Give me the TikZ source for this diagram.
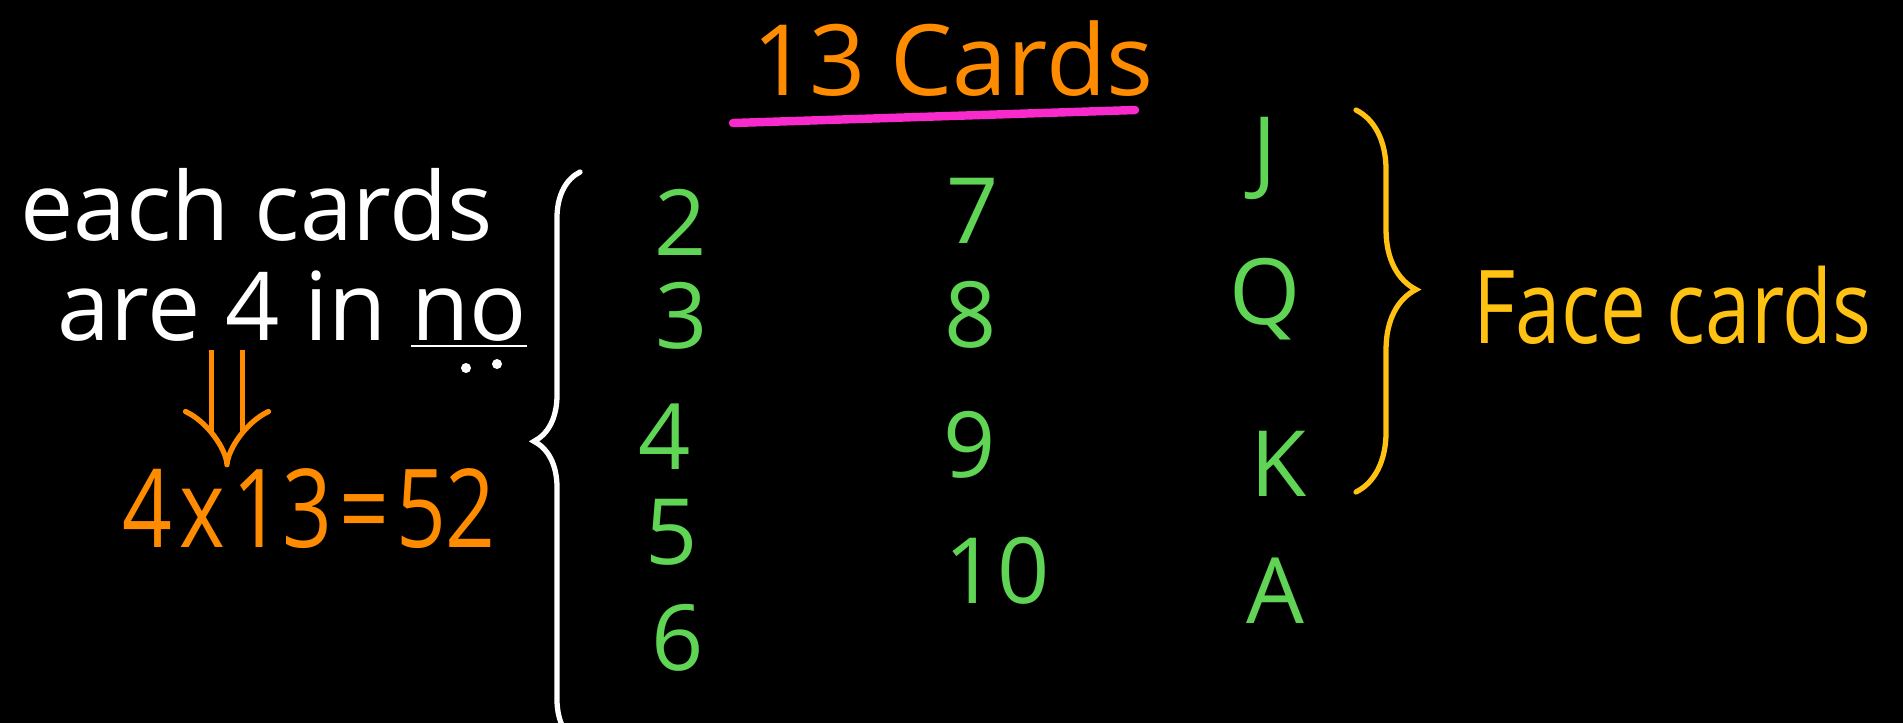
\documentclass[tikz,border=0pt]{standalone}
\usepackage{fontspec}
\setmainfont{Open Sans}
\newfontfamily\narrowhand[FakeStretch=0.8]{Open Sans}
\usepackage{tikz}
\usetikzlibrary{arrows.meta, decorations.pathreplacing}
\definecolor{chalkorange}{RGB}{255,140,0}
\definecolor{chalkpink}{RGB}{248,42,204}
\definecolor{chalkgreen}{RGB}{96,212,84}
\definecolor{chalkyellow}{RGB}{255,193,18}

\begin{document}
\begin{tikzpicture}[x=0.01cm,y=-0.01cm,
  hand/.style={inner sep=0pt,font=\fontsize{27}{30}\selectfont},
  card/.style={inner sep=0pt,text=chalkgreen,font=\fontsize{26}{28}\selectfont},
  curly/.style={decorate,line width=1.5pt,line cap=round}]
  \clip (0,0) rectangle (1903,723);
  \fill[black] (0,0) rectangle (1903,723);
  % heading
  \node[hand,anchor=base west,text=chalkorange,font=\fontsize{28}{30}\selectfont] (title) at (752,95) {13 Cards};
  \draw[chalkpink,line width=2.4pt,line cap=round] (733,123) -- (1135,110);
  % left notes
  \node[hand,anchor=base west,text=white] (line1) at (20,240) {each cards};
  \node[hand,anchor=base west,text=white] (line2) at (57,340) {are 4 in \underline{no}};
  \fill[white] (466,368) circle (5) (497,364) circle (5);
  \node[hand,anchor=base west,text=chalkorange,font=\narrowhand\fontsize{31}{33}\selectfont] (calc) at (122,547) {4\kern2pt x\kern2pt 13\kern2pt=\kern2pt 52};
  \coordinate (arrtop) at (227,350);
  \draw[chalkorange,line width=1.5pt,double=black,double distance=0.26cm,-{Implies}] (arrtop) -- (arrtop |- calc.north);
  % the cards
  \node[card] (c2) at (681,222) {2};
  \node[card] (c3) at (682,316) {3};
  \node[card] (c4) at (665,437) {4};
  \node[card] (c5) at (672,532) {5};
  \node[card] (c6) at (678,638) {6};
  \node[card] (c7) at (973,211) {7};
  \node[card] (c8) at (971,315) {8};
  \node[card] (c9) at (970,445) {9};
  \node[card] (c10) at (997,571) {10};
  \node[card] (cJ) at (1265,158) {J};
  \node[card] (cQ) at (1265,299) {Q};
  \node[card] (cK) at (1279,464) {K};
  \node[card] (cA) at (1275,591) {A};
  % braces
  \coordinate (wbot) at (580,745);
  \coordinate (wtop) at (580,172);
  \draw[curly,white,decoration={brace,amplitude=0.46cm,aspect=0.53}] (wbot) -- (wtop);
  \coordinate (ytop) at (1356,110);
  \coordinate (ybot) at (1356,492);
  \draw[curly,chalkyellow,decoration={brace,amplitude=0.6cm,aspect=0.47}] (ytop) -- (ybot);
  \node[hand,anchor=base west,text=chalkyellow,font=\narrowhand\fontsize{29}{32}\selectfont] (face) at (1473,343) {Face cards};
\end{tikzpicture}
\end{document}
